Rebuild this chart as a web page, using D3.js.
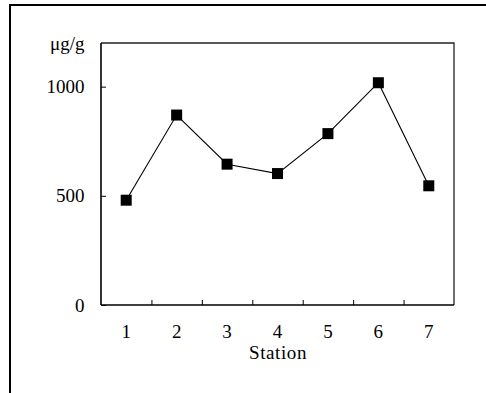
<!DOCTYPE html>
<html>
<head>
<meta charset="utf-8">
<script src="https://cdn.jsdelivr.net/npm/d3@7"></script>
<style>
  html, body { margin: 0; padding: 0; background: #fff; }
  svg { display: block; }
  text { font-family: "Liberation Serif", "Times New Roman", serif; fill: #000; }
</style>
</head>
<body>
<svg id="chart" width="486" height="393"></svg>
<script>
// Concentration per sampling station
const stations = ["1", "2", "3", "4", "5", "6", "7"];
const concentration = [480, 870, 645, 602, 785, 1018, 546];
const yTicks = [0, 500, 1000];
const yUnit = "μg/g";
const xTitle = "Station";

const plot = { left: 101, right: 454, top: 43, bottom: 305 };

const svg = d3.select("#chart");

// outer frame (runs off the right and bottom edges)
svg.append("rect")
  .attr("x", 10).attr("y", 5)
  .attr("width", 500).attr("height", 420)
  .attr("fill", "none").attr("stroke", "#000").attr("stroke-width", 2);

const x = d3.scaleBand().domain(stations).range([plot.left, plot.right]).padding(0);
const xEdge = d3.scaleLinear().domain([0, stations.length]).range([plot.left, plot.right]);
const y = d3.scaleLinear().domain([0, 1200]).range([plot.bottom, plot.top]);

// plot box top and right sides
svg.append("path")
  .attr("d", `M${plot.left},${plot.top}H${plot.right}V${plot.bottom}`)
  .attr("fill", "none").attr("stroke", "#222").attr("stroke-width", 1.3);

// y axis, inward ticks
const yAxis = svg.append("g")
  .attr("transform", `translate(${plot.left},0)`)
  .call(d3.axisLeft(y).tickValues(yTicks).tickSize(-5).tickPadding(16.5).tickFormat(d3.format("d")));
yAxis.select(".domain").attr("stroke-width", 1.6).attr("d", `M0,${plot.top}V${plot.bottom}`);
yAxis.selectAll("text").attr("font-size", 19);

// x axis: boundary ticks between stations
const xTickAxis = svg.append("g")
  .attr("transform", `translate(0,${plot.bottom})`)
  .call(d3.axisBottom(xEdge).tickValues(d3.range(1, stations.length)).tickSize(-5).tickFormat(""));
xTickAxis.select(".domain").attr("stroke-width", 1.6).attr("d", `M${plot.left},0H${plot.right}`);

// x axis: station labels centred in each band
const xAxis = svg.append("g")
  .attr("transform", `translate(0,${plot.bottom})`)
  .call(d3.axisBottom(x).tickSize(0).tickPadding(20));
xAxis.select(".domain").remove();
xAxis.selectAll("text").attr("font-size", 19);

// unit label above the y axis
svg.append("text")
  .attr("x", 84.5).attr("y", 50)
  .attr("text-anchor", "end")
  .attr("font-size", 19)
  .text(yUnit);

// x axis title
svg.append("text")
  .attr("x", (plot.left + plot.right) / 2 + 0.5).attr("y", 358.5)
  .attr("text-anchor", "middle")
  .attr("font-size", 19)
  .attr("letter-spacing", 0.6)
  .text(xTitle);

const data = stations.map((s, i) => ({ s, v: concentration[i] }));

// connecting line
svg.append("path")
  .datum(data)
  .attr("fill", "none").attr("stroke", "#000").attr("stroke-width", 1.1)
  .attr("d", d3.line().x(d => x(d.s) + x.bandwidth() / 2).y(d => y(d.v)));

// square markers
const m = 11;
svg.append("g").selectAll("rect")
  .data(data)
  .join("rect")
  .attr("x", d => x(d.s) + x.bandwidth() / 2 - m / 2)
  .attr("y", d => y(d.v) - m / 2)
  .attr("width", m).attr("height", m)
  .attr("fill", "#000");
</script>
</body>
</html>
